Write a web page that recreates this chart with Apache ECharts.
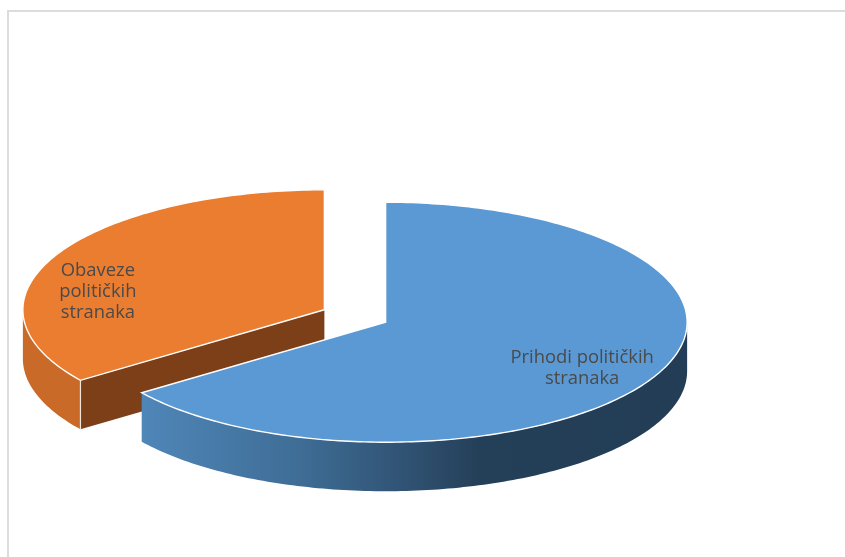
<!DOCTYPE html>
<html><head><meta charset="utf-8">
<style>html,body{margin:0;padding:0;background:#fff}#c{width:845px;height:557px}</style>
<script src="https://cdn.jsdelivr.net/npm/echarts@6/dist/echarts.min.js"></script>
</head><body><div id="c"></div>
<script>
var categories = ['Prihodi političkih\nstranaka', 'Obaveze\npolitičkih\nstranaka'];
var values = [65, 35];

var topColors = ['#5b99d4', '#eb7d31'];
var CX = 355, CY = 316, RX = 301.5, RY = 120, DEPTH = 49, EXPLODE = 0.114;
var labelOffsets = [[196.5, 46.5], [-226.5, -18]];
var total = values.reduce(function (a, b) { return a + b; }, 0);

function pt(c, deg) {
  var a = deg * Math.PI / 180;
  return [c[0] + RX * Math.sin(a), c[1] - RY * Math.cos(a)];
}
function arc(c, a0, a1, dy) {
  var out = [], n = Math.max(2, Math.ceil(Math.abs(a1 - a0)));
  for (var i = 0; i <= n; i++) {
    var p = pt(c, a0 + (a1 - a0) * i / n);
    out.push([p[0], p[1] + (dy || 0)]);
  }
  return out;
}
function renderItem(params, api) {
  var i = params.dataIndex, start = 0;
  for (var k = 0; k < i; k++) start += values[k];
  var a0 = start / total * 360, a1 = (start + api.value(0)) / total * 360;
  var mid = (a0 + a1) / 2 * Math.PI / 180;
  var c = [CX + EXPLODE * RX * Math.sin(mid), CY - EXPLODE * RY * Math.cos(mid)];
  var base = i === 0 ? 10 : 0;
  var ch = [];
  var lo = Math.max(a0, 90), hi = Math.min(a1, 270);
  if (i === 1) {
    var e = pt(c, a0);
    ch.push({ type: 'polygon', z2: base + 1,
      shape: { points: [e, c, [c[0], c[1] + DEPTH], [e[0], e[1] + DEPTH]] },
      style: { fill: '#7d3f17' } });
  }
  if (hi > lo) {
    var side = arc(c, lo, hi, 0).concat(arc(c, hi, lo, DEPTH));
    var sideFill = i === 0
      ? new echarts.graphic.LinearGradient(142, 0, 688, 0, [
          { offset: 0, color: '#4f86b8' },
          { offset: 0.28, color: '#3f6e97' },
          { offset: 0.5, color: '#2f5070' },
          { offset: 0.62, color: '#243f58' },
          { offset: 1, color: '#223d55' }
        ], true)
      : '#c96a28';
    ch.push({ type: 'polygon', z2: base + 2, shape: { points: side },
      style: { fill: sideFill } });
  }
  if (i === 1) {
    var e2 = pt(c, a0);
    ch.push({ type: 'line', z2: base + 3,
      shape: { x1: e2[0], y1: e2[1], x2: e2[0], y2: e2[1] + DEPTH },
      style: { stroke: '#f4e6da', lineWidth: 1.2 } });
  }
  var top = [c].concat(arc(c, a0, a1, 0));
  ch.push({ type: 'polygon', z2: base + 4, shape: { points: top },
    style: { fill: topColors[i], stroke: '#ffffff', lineWidth: 1.4, lineJoin: 'miter' } });
  ch.push({ type: 'text', z2: base + 5,
    style: { text: categories[i], x: c[0] + labelOffsets[i][0], y: c[1] + labelOffsets[i][1],
      align: 'center', verticalAlign: 'middle', fill: '#4a4a4a',
      font: '18.4px "Open Sans"', lineHeight: 21 } });
  return { type: 'group', children: ch };
}
var chart = echarts.init(document.getElementById('c'), null, { renderer: 'canvas' });
chart.setOption({
  animation: false,
  backgroundColor: '#ffffff',
  graphic: [
    { type: 'rect', shape: { x: 7, y: 10, width: 838, height: 2 }, style: { fill: '#dcdcdc' }, silent: true },
    { type: 'rect', shape: { x: 7, y: 10, width: 2, height: 547 }, style: { fill: '#dcdcdc' }, silent: true }
  ],
  series: [{
    type: 'custom', coordinateSystem: 'none', renderItem: renderItem, silent: true,
    data: values.map(function (v, i) { return { name: categories[i], value: [v] }; })
  }]
});
</script></body></html>
